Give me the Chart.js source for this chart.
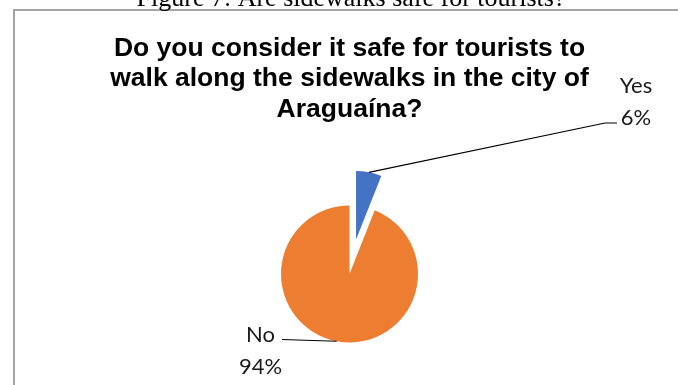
<!DOCTYPE html>
<html>
<head>
<meta charset="utf-8">
<script src="https://cdn.jsdelivr.net/npm/chart.js@4.4.1/dist/chart.umd.min.js"></script>
<style>
    html, body { margin: 0; padding: 0; background: #fff; }
    canvas { display: block; }
</style>
</head>
<body>
<canvas id="pieChart" width="678" height="385"></canvas>
<script>
const categorias = ["Yes", "No"];
const porcentajes = [6, 94];
const colores = ["#4472C4", "#ED7D31"];
const titulo = [
    "Do you consider it safe for tourists to",
    "walk along the sidewalks in the city of",
    "Araguaína?"
];
const leyendaFigura = "Figure 7: Are sidewalks safe for tourists?";

// separacion del sector "Yes" respecto al centro (px)
const separacion = [35, 0];

const separarPlugin = {
    id: "separar",
    afterDatasetUpdate(chart, args) {
        args.meta.data.forEach((arc, i) => {
            const d = separacion[i] || 0;
            if (!d) return;
            const mid = (arc.startAngle + arc.endAngle) / 2;
            arc.x += Math.cos(mid) * d;
            arc.y += Math.sin(mid) * d;
        });
    }
};

const marcoPlugin = {
    id: "marco",
    beforeDraw(chart) {
        const ctx = chart.ctx;
        ctx.save();
        ctx.fillStyle = "#fff";
        ctx.fillRect(0, 0, chart.width, chart.height);
        ctx.strokeStyle = "#a5a5a5";
        ctx.lineWidth = 2;
        ctx.beginPath();
        ctx.moveTo(14, chart.height);
        ctx.lineTo(14, 10);
        ctx.lineTo(chart.width, 10);
        ctx.stroke();
        ctx.fillStyle = "#000";
        ctx.font = "26px 'Liberation Serif', 'Times New Roman', serif";
        ctx.textAlign = "center";
        ctx.textBaseline = "alphabetic";
        ctx.fillText(leyendaFigura, 351, 6);
        ctx.restore();
    }
};

const etiquetasPlugin = {
    id: "etiquetas",
    afterDraw(chart, args, opts) {
        const ctx = chart.ctx;
        const meta = chart.getDatasetMeta(0);
        const total = porcentajes.reduce((a, b) => a + b, 0);
        ctx.save();
        meta.data.forEach((arc, i) => {
            const cfg = opts.items[i];
            const mid = (arc.startAngle + arc.endAngle) / 2;
            const ax = arc.x + Math.cos(mid) * arc.outerRadius;
            const ay = arc.y + Math.sin(mid) * arc.outerRadius;

            ctx.strokeStyle = "#000";
            ctx.lineWidth = 1.2;
            ctx.beginPath();
            ctx.moveTo(ax, ay);
            cfg.guia.forEach(p => ctx.lineTo(p[0], p[1]));
            ctx.stroke();

            ctx.fillStyle = "#1a1a1a";
            ctx.font = "22px Lato, 'Noto Sans', sans-serif";
            ctx.textAlign = "center";
            ctx.textBaseline = "alphabetic";
            ctx.fillText(categorias[i], cfg.x, cfg.y);
            ctx.fillText(Math.round(porcentajes[i] / total * 100) + "%", cfg.x, cfg.y + 31.5);
        });
        ctx.restore();
    },
    defaults: { items: [] }
};

const ctx = document.getElementById("pieChart").getContext("2d");
const pieChart = new Chart(ctx, {
    type: "pie",
    data: {
        labels: categorias,
        datasets: [{
            data: porcentajes,
            backgroundColor: colores,
            borderWidth: 0
        }]
    },
    options: {
        responsive: false,
        animation: false,
        events: [],
        radius: 68.5,
        layout: { padding: { left: 21 } },
        plugins: {
            legend: { display: false },
            tooltip: { enabled: false },
            title: {
                display: true,
                text: titulo,
                color: "#000",
                font: { family: "'Liberation Sans', Arial, sans-serif", size: 26.5, weight: "bold", lineHeight: 1.15 },
                padding: { top: 33, bottom: 38.5 }
            },
            etiquetas: {
                items: [
                    { x: 636, y: 93, guia: [[605, 123], [617, 123]] },
                    { x: 260.5, y: 342, guia: [[282, 339.5]] }
                ]
            }
        }
    },
    plugins: [separarPlugin, marcoPlugin, etiquetasPlugin]
});
</script>
</body>
</html>
